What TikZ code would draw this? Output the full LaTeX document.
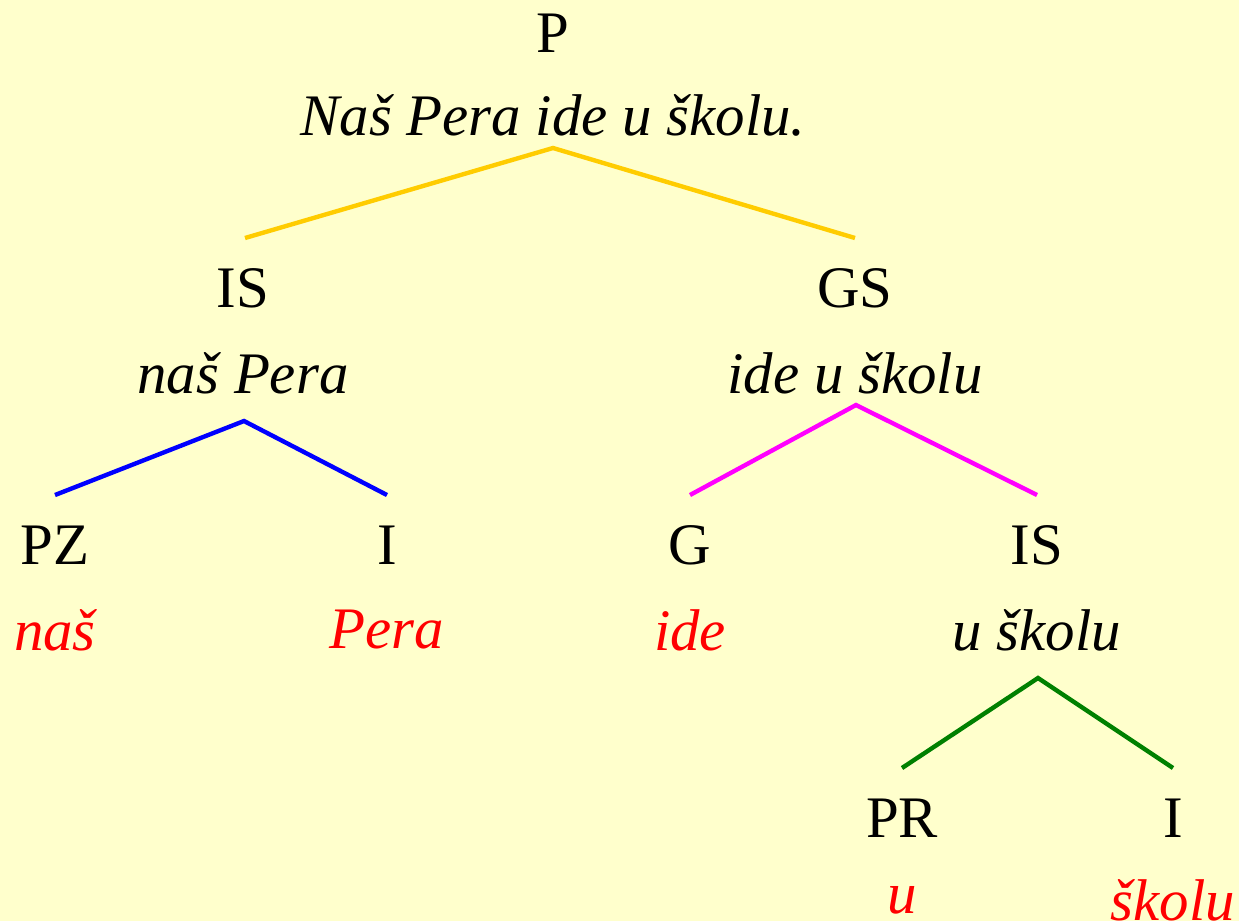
\documentclass[tikz,border=0pt]{standalone}
\usepackage{fontspec}
\setmainfont{Liberation Serif}
\definecolor{bgyellow}{HTML}{FFFFCC}
\definecolor{gold}{HTML}{FFCC00}
\definecolor{darkgreen}{HTML}{008000}
\definecolor{pink}{HTML}{FF00FF}
\tikzset{
  cat/.style={black, font=\fontsize{33.5}{40}\selectfont},
  phrase/.style={black, font=\fontsize{33.5}{40}\selectfont\itshape},
  word/.style={red, font=\fontsize{33.5}{40}\selectfont\itshape},
  branch/.style={line width=2.5pt}
}
\begin{document}
\begin{tikzpicture}[x=0.02cm, y=-0.02cm]
\fill[bgyellow] (0,0) rectangle (1239,921);
\useasboundingbox (0,0) rectangle (1239,921);

\draw
(553, 33) node[cat](p){P}
(553, 115) node[phrase](ps){Naš Pera ide u školu.}
(243, 288) node[cat](is){IS}
(243, 373) node[phrase](iss){naš Pera}
(855, 288) node[cat](gs){GS}
(855, 373) node[phrase](gss){ide u školu}
(55, 545) node[cat](pz){PZ}
(55, 630) node[word](pzw){naš}
(387, 545) node[cat](i){I}
(387, 630) node[word](iw){Pera}
(690, 545) node[cat](g){G}
(690, 630) node[word](gw){ide}
(1037, 545) node[cat](is2){IS}
(1037, 630) node[phrase](is2s){u školu}
(902, 818) node[cat](pr){PR}
(902, 900) node[word](prw){u}
(1173, 818) node[cat](i2){I}
(1173, 900) node[word](i2w){školu};

% branch points
\coordinate (pTop) at (553,148);
\coordinate (isTop) at (245,238);
\coordinate (gsTop) at (855,238);
\coordinate (isBot) at (244,421);
\coordinate (pzTop) at (55,495);
\coordinate (iTop) at (387,495);
\coordinate (gsBot) at (856,405);
\coordinate (gTop) at (690,495);
\coordinate (is2Top) at (1037,495);
\coordinate (is2Bot) at (1038,678);
\coordinate (prTop) at (902,768);
\coordinate (i2Top) at (1173,768);

\draw[branch, gold] (isTop) -- (pTop) -- (gsTop);
\draw[branch, blue] (pzTop) -- (isBot) -- (iTop);
\draw[branch, pink] (gTop) -- (gsBot) -- (is2Top);
\draw[branch, darkgreen] (prTop) -- (is2Bot) -- (i2Top);

\end{tikzpicture}
\end{document}
